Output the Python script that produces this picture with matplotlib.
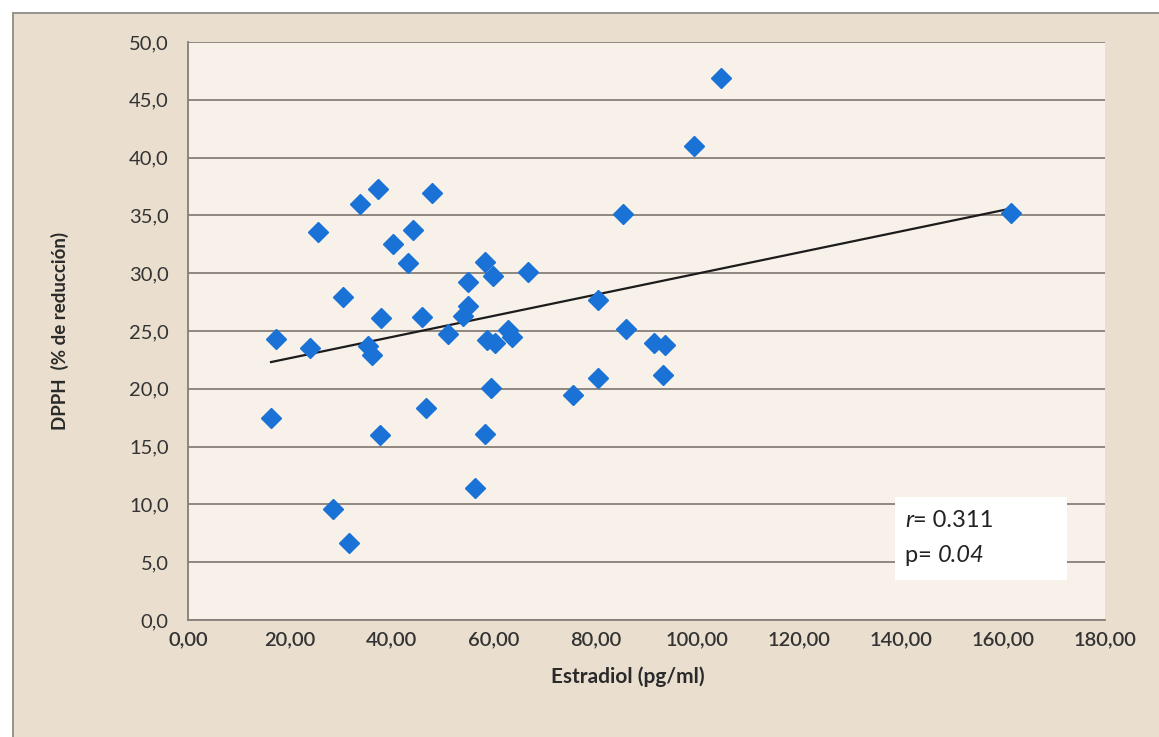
import numpy as np
import matplotlib.pyplot as plt
from matplotlib.patches import Rectangle

# valores
estradiol = [16.3, 17.3, 24.0, 25.5, 28.5, 30.5, 31.6, 33.8, 35.4, 36.2,
             37.3, 37.7, 37.9, 40.3, 43.2, 44.2, 46.0, 46.8, 47.9, 51.1,
             54.0, 55.0, 55.0, 56.4, 58.3, 58.3, 58.7, 59.5, 59.9, 60.3,
             62.9, 63.6, 66.8, 75.6, 80.4, 80.4, 85.3, 86.0, 91.4, 93.7,
             93.3, 99.4, 104.7, 161.5]
dpph = [17.5, 24.3, 23.5, 33.6, 9.6, 27.9, 6.7, 36.0, 23.7, 22.9,
        37.3, 16.0, 26.1, 32.5, 30.9, 33.7, 26.2, 18.3, 36.9, 24.7,
        26.3, 27.2, 29.2, 11.4, 31.0, 16.1, 24.2, 20.1, 29.8, 24.0,
        25.1, 24.5, 30.1, 19.5, 27.7, 20.9, 35.1, 25.2, 24.0, 23.8,
        21.2, 41.0, 46.9, 35.2]

x_ticks = np.arange(0, 181, 20)
y_ticks = np.arange(0, 51, 5)

plt.rcParams['font.family'] = ['Lato', 'DejaVu Sans']

fig = plt.figure(figsize=(11.59, 7.37), dpi=100, facecolor='white')

# area del grafico (beige), recortada por la derecha y abajo como en el escaneo
fig.patches.append(Rectangle((0.0112, -0.05), 1.05, 1.0324, transform=fig.transFigure,
                             facecolor='#eadfcf', edgecolor='#8f8a84', lw=1.3, zorder=-1))

ax = fig.add_axes([0.1622, 0.1587, 0.7912, 0.7843])
ax.set_zorder(1)
ax.set_facecolor('#f7f1e9')

x = np.array(estradiol)
y = np.array(dpph)
m, c = np.polyfit(x, y, 1)
xl = np.array([x.min(), x.max()])

ax.plot(x, y, 'D', color='#1a72d6', ms=10.5, mec='#1a72d6', zorder=3)
ax.plot(xl, m * xl + c, color='#1c1c1c', lw=1.6, zorder=2)

ax.set_xlim(0, 180)
ax.set_ylim(0, 50)
ax.set_xticks(x_ticks)
ax.set_yticks(y_ticks)
ax.set_xticklabels([f"{v:.2f}".replace('.', ',') for v in x_ticks], fontweight='semibold')
ax.set_yticklabels([f"{v:.1f}".replace('.', ',') for v in y_ticks])
ax.tick_params(labelsize=14.5, colors='#333333', length=0)
ax.tick_params(axis='y', pad=14)
ax.tick_params(axis='x', pad=8)

ax.grid(axis='y', color='#857f78', lw=1.3)
ax.set_axisbelow(True)
for s in ['top', 'right']:
    ax.spines[s].set_visible(False)
for s in ['left', 'bottom']:
    ax.spines[s].set_color('#857f78')
    ax.spines[s].set_linewidth(1.3)

ax.set_xlabel('Estradiol (pg/ml)', fontsize=15, fontweight='bold', color='#2a2a2a')
ax.xaxis.set_label_coords(0.48, -0.08)
ax.set_ylabel('DPPH  (% de reducción)', fontsize=13.5, fontweight='bold', color='#2a2a2a')
ax.yaxis.set_label_coords(-0.13, 0.5)

# cuadro con r y p
ax.add_patch(Rectangle((138.8, 3.5), 33.8, 7.1, facecolor='white', edgecolor='none', zorder=4))
t1 = ax.text(140.8, 8.6, 'r', style='italic', fontsize=17, va='center', color='#222222', zorder=5)
ax.annotate('= 0.311', xy=(1, 0.5), xycoords=t1, va='center', fontsize=17, color='#222222', zorder=5)
t2 = ax.text(140.8, 5.6, 'p= ', fontsize=17, va='center', color='#222222', zorder=5)
ax.annotate('0.04', xy=(1, 0.5), xycoords=t2, va='center', style='italic', fontsize=17,
            color='#222222', zorder=5)

fig.savefig('out.png', dpi=100, facecolor=fig.get_facecolor())
